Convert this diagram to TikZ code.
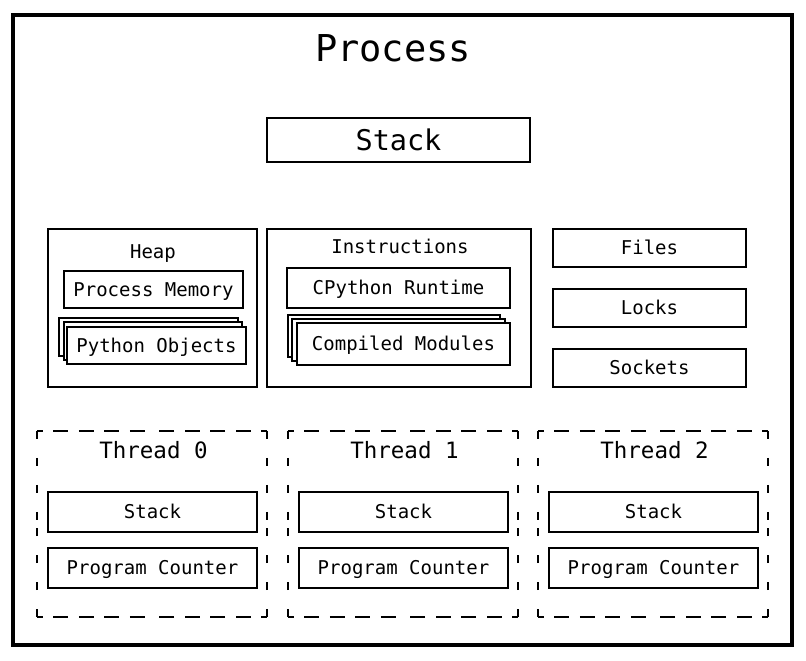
\documentclass[tikz,border=0pt]{standalone}
\usepackage{fontspec}
\setmonofont{DejaVu Sans Mono}
\begin{document}
\begin{tikzpicture}[x=1pt,y=-1pt,
  txt/.style={font=\ttfamily\fontsize{19}{19}\selectfont, text height=13.9pt, text depth=0pt},
  box/.style={draw, line width=1.3pt, fill=white, inner sep=0pt, txt},
  page/.style={draw, line width=1.3pt, fill=white},
  group/.style={draw, line width=1.8pt, inner sep=0pt},
  thread/.style={inner sep=0pt},
  hdash/.style={line width=1.7pt, dash pattern=on 15pt off 10.5pt, dash phase=9pt},
  vdash/.style={line width=1.7pt, dash pattern=on 8pt off 19pt},
  lbl/.style={font=\ttfamily\fontsize{19}{19}\selectfont, inner sep=0pt, anchor=base},
  tlbl/.style={font=\ttfamily\fontsize{22.5}{22.5}\selectfont, inner sep=0pt, anchor=base}]
\useasboundingbox (0,0) rectangle (806,661);
% outer frame
\node[draw, line width=3.2pt, inner sep=0pt, minimum width=779pt, minimum height=630pt] (proc) at (402.5,330) {};
\node[font=\ttfamily\fontsize{37}{37}\selectfont, inner sep=0pt, anchor=base] (ptitle) at (393,62) {Process};
\node[box, minimum width=263pt, minimum height=44pt, font=\ttfamily\fontsize{28.5}{28.5}\selectfont, text height=20.8pt] (stack) at (398.5,140) {Stack};

% Heap
\node[group, minimum width=209pt, minimum height=158pt] (heap) at (152.5,308) {};
\node[lbl] (heaplbl) at (153,258) {Heap};
\node[box, minimum width=179pt, minimum height=37pt] (pm) at (153.5,289.5) {Process Memory};
\draw[page] (59,318) rectangle (238,356);
\draw[page] (64,322) rectangle (242,360);
\node[box, minimum width=179pt, minimum height=37pt] (po) at (156.5,345.5) {Python Objects};

% Instructions
\node[group, minimum width=264pt, minimum height=158pt] (instr) at (399,308) {};
\node[lbl] (instrlbl) at (400,253) {Instructions};
\node[box, minimum width=223pt, minimum height=40pt] (cr) at (398.5,288) {CPython Runtime};
\draw[page] (288,315) rectangle (500,357);
\draw[page] (292,319) rectangle (505,361);
\node[box, minimum width=213pt, minimum height=42pt] (cm) at (403.5,344) {Compiled Modules};

% Files etc
\node[box, minimum width=193pt, minimum height=38pt] (files) at (649.5,248) {Files};
\node[box, minimum width=193pt, minimum height=38pt] (locks) at (649.5,308) {Locks};
\node[box, minimum width=193pt, minimum height=38pt] (sockets) at (649.5,368) {Sockets};

% Threads
\foreach \n/\cx in {0/152,1/403,2/653}{
  \node[thread, minimum width=230pt, minimum height=186pt] (t\n) at (\cx,524) {};
  \draw[hdash] (t\n.north west) -- (t\n.north);
  \draw[hdash] (t\n.north east) -- (t\n.north);
  \draw[hdash] (t\n.south west) -- (t\n.south);
  \draw[hdash] (t\n.south east) -- (t\n.south);
  \draw[vdash] (t\n.north west) -- (t\n.west);
  \draw[vdash] (t\n.south west) -- (t\n.west);
  \draw[vdash] (t\n.north east) -- (t\n.east);
  \draw[vdash] (t\n.south east) -- (t\n.east);
  \node[tlbl] (t\n lbl) at (\cx+1.5,458) {Thread \n};
  \node[box, minimum width=209pt, minimum height=40pt] (t\n s) at (\cx+0.5,512) {Stack};
  \node[box, minimum width=209pt, minimum height=40pt] (t\n p) at (\cx+0.5,568) {Program Counter};
}
\end{tikzpicture}
\end{document}
